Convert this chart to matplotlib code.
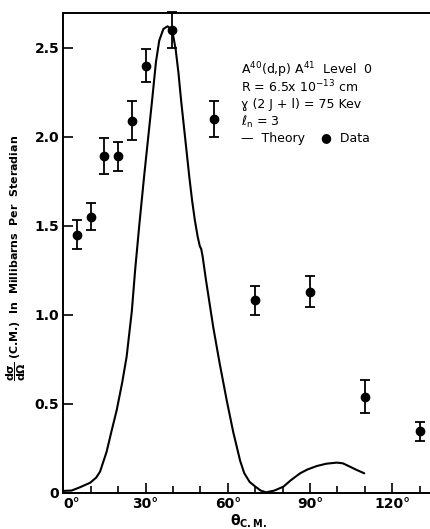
import matplotlib
matplotlib.use("Agg")
import matplotlib.pyplot as plt
from matplotlib.ticker import MultipleLocator, FixedLocator

# Data points (angle in degrees, cross section mb/sr, error)
data_angle = [5, 10, 15, 20, 25, 30, 39.5, 55, 70, 90, 110, 130]
data_value = [1.45, 1.55, 1.89, 1.89, 2.09, 2.40, 2.60, 2.10, 1.08, 1.13, 0.54, 0.345]
data_err = [0.08, 0.075, 0.10, 0.08, 0.11, 0.09, 0.10, 0.10, 0.08, 0.085, 0.095, 0.055]

# Theory curve
theory_angle = [0, 3, 6, 9.8, 12, 13.4, 15.8, 17.5, 19.5, 21.5, 23.1, 25, 26.2, 27.7,
                29.5, 31, 32.5, 33.8, 35, 36.5, 38, 39, 40, 41, 42, 43, 44.4, 46,
                47, 48, 49, 49.8, 50.3, 50.8, 52, 54.7, 57, 59.6, 62, 64.5, 66, 68,
                70, 72, 74, 77, 80.3, 83, 86.4, 89, 92.5, 96, 99.8, 102, 104.6, 107, 109.8]
theory_value = [0.01, 0.012, 0.03, 0.056, 0.085, 0.118, 0.23, 0.34, 0.465, 0.62, 0.764,
                1.02, 1.25, 1.5, 1.78, 2.0, 2.22, 2.42, 2.54, 2.605, 2.62, 2.61, 2.575,
                2.49, 2.36, 2.2, 2.0, 1.77, 1.64, 1.53, 1.44, 1.385, 1.37, 1.33, 1.2,
                0.93, 0.73, 0.52, 0.34, 0.18, 0.11, 0.06, 0.035, 0.012, 0.002, 0.012,
                0.034, 0.07, 0.109, 0.13, 0.15, 0.163, 0.169, 0.165, 0.146, 0.128, 0.109]

x_ticks = [0, 30, 60, 90, 120]
x_labels = ["0°", "30°", "60°", "90°", "120°"]
y_ticks = [0, 0.5, 1.0, 1.5, 2.0, 2.5]
y_labels = ["0", "0.5", "1.0", "1.5", "2.0", "2.5"]

legend_lines = [r"A$^{40}$(d,p) A$^{41}$  Level  0",
                r"R = 6.5x 10$^{-13}$ cm",
                r"ɣ (2 J + l) = 75 Kev",
                r"$\ell_{\rm n}$ = 3",
                "—  Theory    ●  Data"]

plt.rcParams['font.family'] = ['DejaVu Sans']
plt.rcParams['mathtext.fontset'] = 'dejavusans'

fig = plt.figure(figsize=(4.31, 5.29), dpi=100)
W, H = 431, 529
left_px, right_px, top_px, bottom_px = 63.3, 435, 13, 492.7
ax = fig.add_axes([left_px / W, 1 - bottom_px / H, (right_px - left_px) / W, (bottom_px - top_px) / H])

ax.plot(theory_angle, theory_value, color='black', lw=1.5, solid_capstyle='round')
ax.errorbar(data_angle, data_value, yerr=data_err, fmt='o', color='black',
            ms=6, capsize=3.5, elinewidth=1.3, capthick=1.3, clip_on=False)

ax.set_xlim(0, 135.6)
ax.set_ylim(0, 2.695)

ax.xaxis.set_major_locator(FixedLocator(x_ticks))
ax.set_xticklabels(x_labels)
ax.xaxis.set_minor_locator(MultipleLocator(10))
ax.yaxis.set_major_locator(FixedLocator(y_ticks))
ax.set_yticklabels(y_labels)

ax.tick_params(axis='both', which='major', direction='in', length=7, width=1.2,
               labelsize=10, pad=3)
ax.tick_params(axis='both', which='minor', direction='in', length=5, width=1.2)
for s in ax.spines.values():
    s.set_linewidth(1.4)

for lab in ax.get_xticklabels() + ax.get_yticklabels():
    lab.set_fontweight('bold')
ax.get_xticklabels()[0].set_horizontalalignment('left')
ax.get_xticklabels()[0].set_x(-1.0)

ax.set_ylabel(r"$\mathbf{\dfrac{d\sigma}{d\Omega}}$ (C.M.)  In  Millibarns  Per  Steradian",
              fontsize=7.9, fontweight='bold')
ax.yaxis.set_label_coords(-0.095, 0.49)

fig.text(248 / W, 1 - 521 / H, r"$\mathbf{\theta}_{\mathbf{C.M.}}$", fontsize=10,
         ha='center', va='center')

y0 = 70
for i, line in enumerate(legend_lines):
    fig.text(241 / W, 1 - (y0 + i * 17.2) / H, line, fontsize=9, ha='left', va='center')

fig.savefig("out.png", dpi=100)
